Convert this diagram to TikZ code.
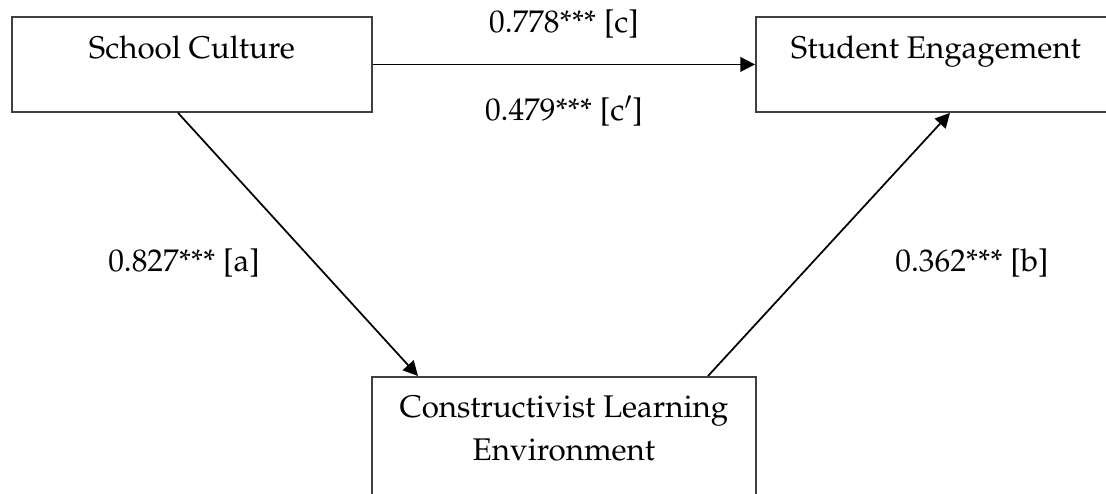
\documentclass[tikz,border=0pt]{standalone}
\usepackage[T1]{fontenc}
\usepackage{mathpazo}
\usetikzlibrary{arrows.meta}

\begin{document}
\begin{tikzpicture}[
                x=0.75pt, y=-0.75pt,
                every node/.style={
                        font=\fontsize{23.5}{32.25}\selectfont
                    },
                box/.style={
                        draw=black!75,
                        line width=1.4pt,
                        inner sep=0pt,
                        align=center,
                        anchor=north west
                    },
                link/.style={-{Triangle[length=11pt,width=11pt]}, line width=1.3pt},
                coef/.style={anchor=base}
            ]

            \clip (0,0) rectangle (1106,493);

            % Caixas posicionadas manualmente
            \node[box, minimum width=270pt, text height=31.5pt, text depth=39.75pt] (culture) at (11,16) {School Culture};
            \node[box, minimum width=270pt, text height=31.5pt, text depth=39.75pt] (engage) at (755,16) {Student Engagement};
            \node[box, minimum width=288pt, text height=63pt, text depth=45pt] (learning) at (371,376) {Constructivist Learning\\Environment};

            % Setas com coeficientes
            \draw[link] (culture.east) -- node[coef, midway, yshift=23.6pt] {0.778*** [c]}
                node[coef, midway, yshift=-42.4pt] {0.479*** [c$'$]} (engage.west);
            \draw[link] ([xshift=125.25pt]culture.south west) -- node[coef, midway, xshift=-85.5pt, yshift=-20.6pt] {0.827*** [a]} ([xshift=35.25pt]learning.north west);
            \draw[link] ([xshift=252.75pt]learning.north west) -- node[coef, midway, xshift=107.25pt, yshift=-20.6pt] {0.362*** [b]} ([xshift=146.25pt]engage.south west);

        \end{tikzpicture}
\end{document}
